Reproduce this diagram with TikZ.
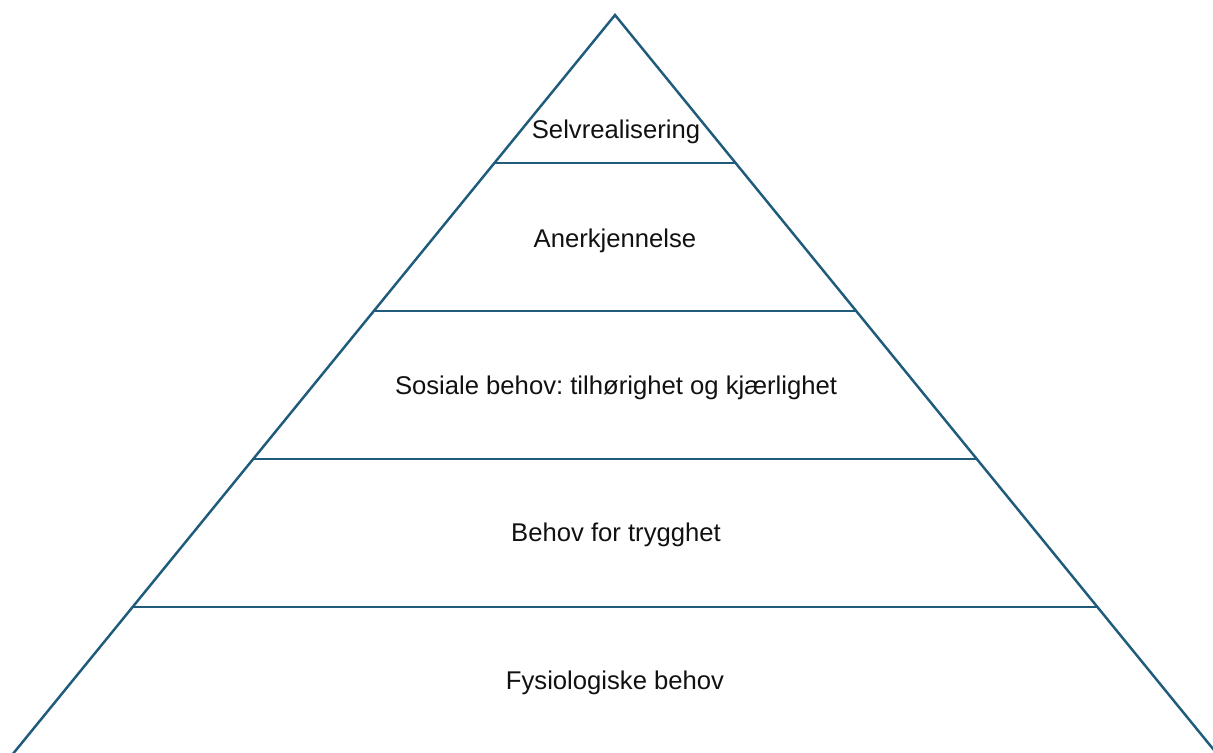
\documentclass[tikz,border=0pt]{standalone}
\usepackage{fontspec}
\setmainfont{Liberation Sans}
\usepackage{tikz}
\usetikzlibrary{calc}
\definecolor{pyline}{HTML}{1F5C7C}
\definecolor{pyink}{HTML}{111111}
\frenchspacing

\begin{document}
\begin{tikzpicture}[
  x=0.02cm,y=-0.02cm,
  level/.style={text=pyink,font=\fontsize{14.6}{17}\selectfont},
  edge/.style={pyline,line width=1.4pt,line join=miter}
]
\useasboundingbox (0,0) rectangle (1213,752);
\clip (0,0) rectangle (1213,752);
\coordinate (apex) at (615,15);
\coordinate (bl) at (12,755);
\coordinate (br) at (1218,755);
\draw[edge] (bl) -- (apex) -- (br);
\draw[edge] ($(apex)!0.2!(bl)$) -- ($(apex)!0.2!(br)$);
\draw[edge] ($(apex)!0.4!(bl)$) -- ($(apex)!0.4!(br)$);
\draw[edge] ($(apex)!0.6!(bl)$) -- ($(apex)!0.6!(br)$);
\draw[edge] ($(apex)!0.8!(bl)$) -- ($(apex)!0.8!(br)$);

\node[level] (top) at (616,132) {Selvrealisering};
\node[level] (esteem) at (615,241) {Anerkjennelse};
\node[level] (social) at (616,388) {Sosiale behov: tilhørighet og kjærlighet};
\node[level] (safety) at (616,535) {Behov for trygghet};
\node[level] (basic) at (615,683) {Fysiologiske behov};
\end{tikzpicture}
\end{document}
